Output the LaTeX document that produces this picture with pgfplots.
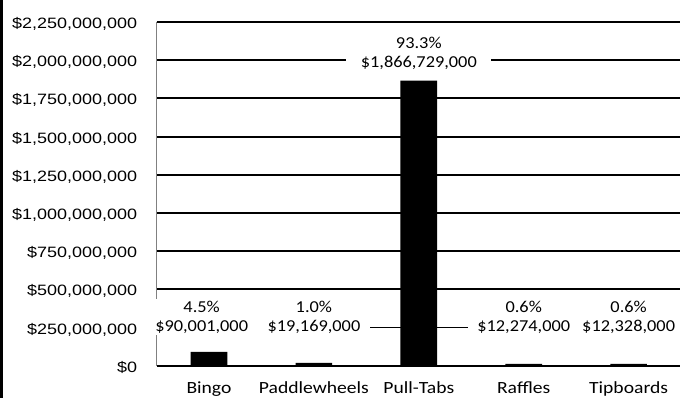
\documentclass[border=0pt]{standalone}
\usepackage{fontspec}
\usepackage{pgfplots}
\pgfplotsset{compat=1.18}
\setmainfont{Carlito}[FakeStretch=1.1]
\newfontfamily\catf{Carlito}[FakeStretch=1.15]
\newfontfamily\ticf{Liberation Sans}[FakeStretch=1.2]
\begin{document}
\begin{tikzpicture}
\clip (0,0) rectangle (510pt,298.5pt);
\fill[white] (0,0) rectangle (510pt,298.5pt);
\draw[line width=2.25pt] (1.1pt,0) -- (1.1pt,298.5pt);
\begin{axis}[
  at={(117.4pt,24.2pt)}, anchor=south west,
  scale only axis, width=393.4pt, height=257.8pt,
  xmin=-0.5, xmax=4.5, ymin=0, ymax=2250000000,
  scaled y ticks=false,
  axis x line*=bottom, axis y line*=left,
  x axis line style={black, line width=1.5pt, -},
  y axis line style={gray, line width=0.8pt, -},
  major tick length=0pt,
  xtick={0,1,2,3,4},
  xticklabels={Bingo,Paddlewheels,Pull-Tabs,Raffles,Tipboards},
  xticklabel style={font=\catf\fontsize{12.8}{15}\selectfont, yshift=-8.5pt},
  ytick={0,250000000,500000000,750000000,1000000000,1250000000,1500000000,1750000000,2000000000,2250000000},
  yticklabels={{\$0},{\$250,000,000},{\$500,000,000},{\$750,000,000},{\$1,000,000,000},{\$1,250,000,000},{\$1,500,000,000},{\$1,750,000,000},{\$2,000,000,000},{\$2,250,000,000}},
  yticklabel style={font=\ticf\fontsize{11.25}{13}\selectfont, anchor=east, xshift=-11pt, yshift=-1.5pt},
  ymajorgrids, grid style={black, line width=1.4pt},
  clip=false,
]
\addplot[ybar, bar width=27.5pt, fill=black, draw=none] coordinates {
  (0,90001000) (1,19169000) (2,1866729000) (3,12274000) (4,12328000)};
\begin{scope}[every node/.style={fill=white, align=center, inner xsep=7pt, inner ysep=1pt, font=\fontsize{12.5}{14.6}\selectfont}]
\node[inner xsep=9pt] at (axis cs:-0.07,318000000) {4.5\%\\\$90,001,000};
\node at (axis cs:1,318000000) {1.0\%\\\$19,169,000};
\node[inner xsep=11pt] at (axis cs:2,2043000000) {93.3\%\\\$1,866,729,000};
\node at (axis cs:3,318000000) {0.6\%\\\$12,274,000};
\node at (axis cs:4,318000000) {0.6\%\\\$12,328,000};
\end{scope}
\end{axis}
\end{tikzpicture}
\end{document}
